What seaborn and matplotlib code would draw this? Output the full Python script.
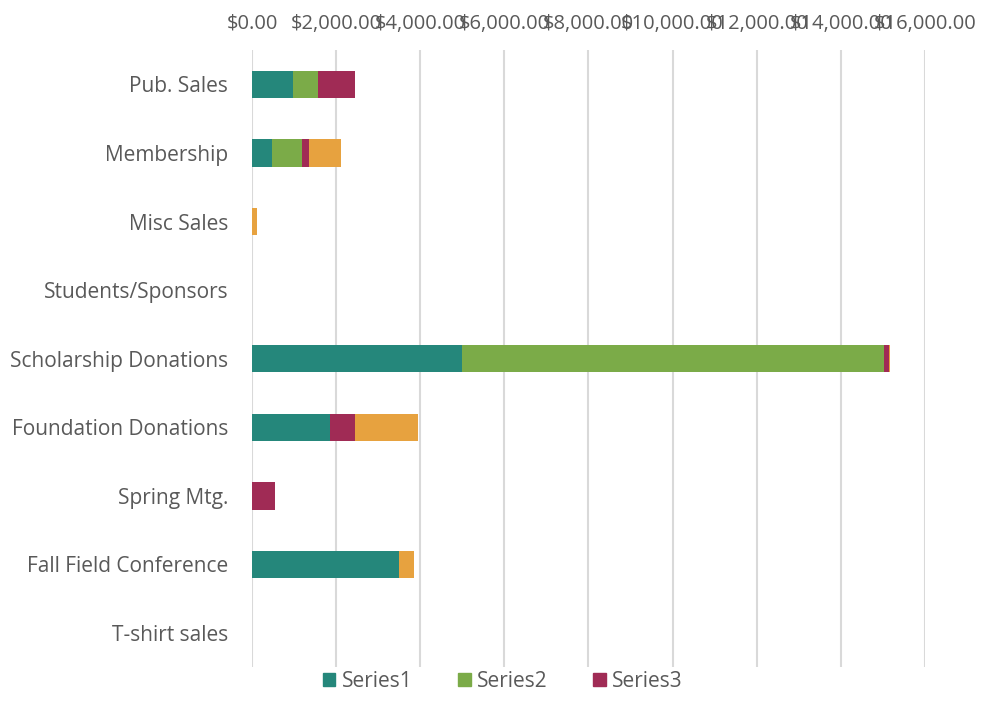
import numpy as np
import pandas as pd
import seaborn as sns
import matplotlib
matplotlib.use("Agg")
import matplotlib.pyplot as plt
from matplotlib.patches import Patch
from matplotlib.ticker import FuncFormatter

# data
categories = ["Pub. Sales", "Membership", "Misc Sales", "Students/Sponsors",
              "Scholarship Donations", "Foundation Donations", "Spring Mtg.",
              "Fall Field Conference", "T-shirt sales"]
series1 = [965, 480, 0, 0, 5000, 1845, 0, 3500, 0]
series2 = [605, 705, 0, 0, 10020, 0, 0, 0, 0]
series3 = [870, 160, 0, 0, 135, 605, 555, 0, 0]
series4 = [0, 780, 125, 0, 20, 1505, 0, 355, 0]

names = ["Series1", "Series2", "Series3", "Series4"]
colors = ["#25877b", "#7bab48", "#a02b55", "#e7a23f"]

df = pd.DataFrame({"cat": categories, "Series1": series1, "Series2": series2,
                   "Series3": series3, "Series4": series4})
cum = df[names].cumsum(axis=1)
cum["cat"] = df["cat"]

sns.set_style("white")
plt.rcParams["font.family"] = ["Open Sans", "DejaVu Sans"]

fig = plt.figure(figsize=(9.82, 7.02), dpi=100)
ax = fig.add_axes([0.2566, 0.0495, 0.6853, 0.879])

# draw stacked bars back to front
for name, col in zip(names[::-1], colors[::-1]):
    sns.barplot(data=cum, x=name, y="cat", order=categories, color=col,
                orient="h", width=0.4, ax=ax, linewidth=0, saturation=1)

ax.set_xlim(0, 16000)
ax.set_ylim(8.5, -0.5)
ax.set_xticks(np.arange(0, 16001, 2000))
ax.xaxis.set_major_formatter(FuncFormatter(lambda v, p: "${:,.2f}".format(v)))
ax.xaxis.tick_top()
ax.grid(axis="x", color="#d9d9d9", linewidth=1.5)
ax.set_axisbelow(True)
for s in ax.spines.values():
    s.set_visible(False)
ax.tick_params(axis="x", length=0, labelsize=14.5, labelcolor="#595959", pad=12)
ax.tick_params(axis="y", length=0, labelsize=15, labelcolor="#595959", pad=17)
ax.set_xlabel("")
ax.set_ylabel("")

handles = [Patch(color=c, label=n) for n, c in zip(names[:3], colors[:3])]
fig.legend(handles=handles, loc="lower center", bbox_to_anchor=(0.512, -0.012),
           ncol=3, frameon=False, fontsize=15, labelcolor="#595959",
           handlelength=0.6, handleheight=0.6, columnspacing=2.2, handletextpad=0.3)

fig.savefig("out.png", dpi=100)
